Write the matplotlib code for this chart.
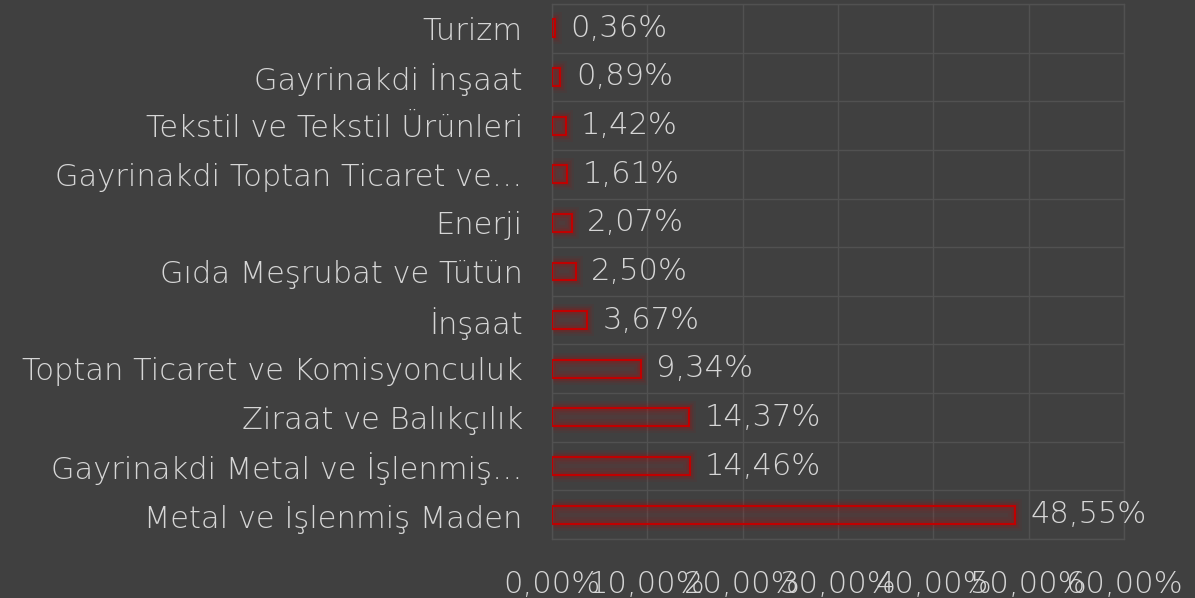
import matplotlib
matplotlib.use("Agg")
import matplotlib.pyplot as plt
import numpy as np

# sectors, top to bottom
sectors = [
    "Turizm",
    "Gayrinakdi İnşaat",
    "Tekstil ve Tekstil Ürünleri",
    "Gayrinakdi Toptan Ticaret ve…",
    "Enerji",
    "Gıda Meşrubat ve Tütün",
    "İnşaat",
    "Toptan Ticaret ve Komisyonculuk",
    "Ziraat ve Balıkçılık",
    "Gayrinakdi Metal ve İşlenmiş…",
    "Metal ve İşlenmiş Maden",
]
shares = [0.36, 0.89, 1.42, 1.61, 2.07, 2.50, 3.67, 9.34, 14.37, 14.46, 48.55]
xticks = [0, 10, 20, 30, 40, 50, 60]

bg = "#404040"
txt = "#d6d6d6"
red = "#c00000"
gridc = "#515151"
fs = 22

plt.rcParams['font.family'] = ['DejaVu Sans']
plt.rcParams['font.weight'] = 200

fig = plt.figure(figsize=(11.95, 5.98), dpi=100, facecolor=bg)
ax = fig.add_axes([552 / 1195, 1 - 539 / 598, (1124 - 552) / 1195, (539 - 4) / 598])
ax.set_facecolor(bg)

y = np.arange(len(sectors))

# soft red glow around the bars
for lw, a in [(10, 0.05), (7, 0.08), (4.5, 0.14)]:
    ax.barh(y, shares, height=0.37, facecolor="none", edgecolor=red, linewidth=lw, alpha=a, zorder=2)
ax.barh(y, shares, height=0.37, facecolor=(0.75, 0.1, 0.1, 0.12), edgecolor=red, linewidth=1.5, zorder=3)

for yi, v in zip(y, shares):
    ax.annotate(f"{v:.2f}%".replace(".", ","), (v, yi), xytext=(11, 0), textcoords="offset points",
                va="center", ha="left", color=txt, fontsize=fs, fontweight=200)

ax.set_xlim(0, 60)
ax.set_ylim(len(sectors) - 0.5, -0.5)
ax.set_xticks(xticks)
ax.set_xticklabels([f"{t:.2f}%".replace(".", ",") for t in xticks], color=txt, fontsize=fs, fontweight=200)
ax.set_yticks(y)
ax.set_yticklabels(sectors, color=txt, fontsize=fs, fontweight=200)
ax.tick_params(axis="both", length=0)
ax.tick_params(axis="y", pad=21)
ax.tick_params(axis="x", pad=22)

ax.set_yticks(np.arange(len(sectors) + 1) - 0.5, minor=True)
ax.tick_params(axis="y", which="minor", length=0)
ax.grid(True, axis="x", color=gridc, linewidth=1.0, zorder=0)
ax.grid(True, axis="y", which="minor", color=gridc, linewidth=1.0, zorder=0)
ax.set_axisbelow(True)
for s in ax.spines.values():
    s.set_color(gridc)
    s.set_linewidth(1.0)

fig.savefig("out.png", dpi=100, facecolor=bg)
